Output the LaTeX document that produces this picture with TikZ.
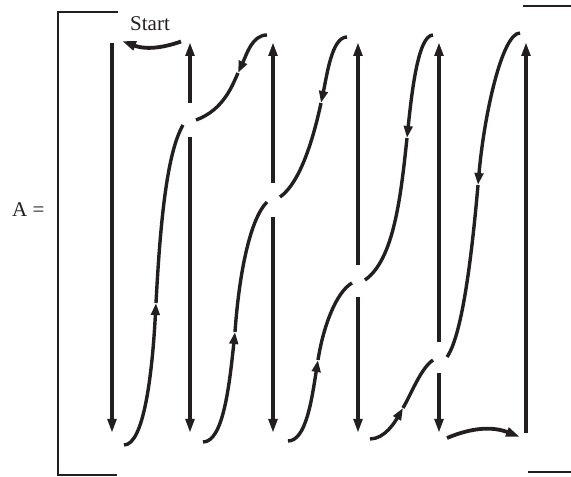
\documentclass[tikz,border=0pt]{standalone}
\usepackage{fontspec}
\setmainfont{Liberation Serif}
\usetikzlibrary{arrows.meta}
\definecolor{ink}{RGB}{35,31,32}
\begin{document}
\begin{tikzpicture}[x=1pt,y=1pt,
  bracketrule/.style={draw=ink, line width=1.2pt},
  colrule/.style={draw=ink, line width=3.8pt},
  colarrow/.style={colrule, -{Triangle[length=14pt,width=8.5pt]}},
  sweep/.style={draw=ink, line width=3.4pt},
  sweeparrow/.style={sweep, -{Triangle[length=12pt,width=8.5pt]}},
  turnarrow/.style={draw=ink, line width=3.8pt, -{Triangle[length=14pt,width=9pt]}},
  lbl/.style={font=\fontsize{21}{25}\selectfont, text=ink, inner sep=0pt}]
\useasboundingbox (0,0) rectangle (571,477);

% matrix brackets
\coordinate (bltop) at (58,465);
\coordinate (blbot) at (58,2);
\draw[bracketrule] (118,465) -- (bltop) -- (blbot) -- (117,2);
\draw[bracketrule] (523,471) -- (571,471);
\draw[bracketrule] (528,5) -- (571,5);

% labels
\node[lbl, anchor=base west] (lhs) at (12,260) {A =};
\node[lbl, anchor=base] (start) at (150,446) {Start};

% columns: top ends, bottom ends and the breaks where a sweep crosses
\coordinate (c1t) at (112,434); \coordinate (c1b) at (112,44);
\coordinate (c2t) at (190,435); \coordinate (c2u) at (190,374);
\coordinate (c2l) at (190,340); \coordinate (c2b) at (190,44);
\coordinate (c3t) at (273,435); \coordinate (c3u) at (273,294);
\coordinate (c3l) at (273,260); \coordinate (c3b) at (273,44);
\coordinate (c4t) at (358,435); \coordinate (c4u) at (358,212);
\coordinate (c4l) at (358,180); \coordinate (c4b) at (358,44);
\coordinate (c5t) at (439,435); \coordinate (c5u) at (439,135);
\coordinate (c5l) at (439,104); \coordinate (c5b) at (439,44);
\coordinate (c6t) at (526,435); \coordinate (c6b) at (526,44);

\draw[colarrow] (c1t) -- (c1b);
\draw[colarrow] (c2u) -- (c2t);
\draw[colarrow] (c2l) -- (c2b);
\draw[colarrow] (c3u) -- (c3t);
\draw[colarrow] (c3l) -- (c3b);
\draw[colarrow] (c4u) -- (c4t);
\draw[colarrow] (c4l) -- (c4b);
\draw[colarrow] (c5u) -- (c5t);
\draw[colarrow] (c5l) -- (c5b);
\draw[colarrow] (c6b) -- (c6t);

% start and finish turns
\coordinate (s0) at (181,435.5); \coordinate (s1) at (122,436);
\draw[turnarrow] (s0) to[bend left=20] (s1);
\coordinate (f0) at (447,39); \coordinate (f1) at (520,40);
\draw[turnarrow] (f0) to[bend left=22] (f1);

% rising sweeps from the foot of one column to the next column
\coordinate (l1a) at (124,32);  \coordinate (l1m) at (156,174); \coordinate (l1b) at (183,352);
\coordinate (l2a) at (203,35);  \coordinate (l2m) at (235,145); \coordinate (l2b) at (267,275);
\coordinate (l3a) at (288,36);  \coordinate (l3m) at (318,117); \coordinate (l3b) at (352,194);
\coordinate (l4a) at (370,38);  \coordinate (l4m) at (403,69);  \coordinate (l4b) at (433,117);

\draw[sweeparrow] (l1a) to[out=0,in=267,out distance=20pt,in distance=70pt] (l1m);
\draw[sweep] (l1m) to[out=87,in=240,out distance=90pt,in distance=30pt] (l1b);
\draw[sweeparrow] (l2a) to[out=0,in=264,out distance=20pt,in distance=55pt] (l2m);
\draw[sweep] (l2m) to[out=86,in=225,out distance=55pt,in distance=25pt] (l2b);
\draw[sweeparrow] (l3a) to[out=0,in=261,out distance=18pt,in distance=40pt] (l3m);
\draw[sweep] (l3m) to[out=81,in=210,out distance=35pt,in distance=18pt] (l3b);
\draw[sweeparrow] (l4a) to[out=0,in=240,out distance=15pt,in distance=15pt] (l4m);
\draw[sweep] (l4m) to[out=60,in=215,out distance=18pt,in distance=15pt] (l4b);

% falling sweeps from the top down to each crossing
\coordinate (u1t) at (267,442); \coordinate (u1m) at (238,404); \coordinate (u1c) at (196,357);
\coordinate (u2t) at (347,440); \coordinate (u2m) at (321,374); \coordinate (u2c) at (280,280);
\coordinate (u3t) at (433,442); \coordinate (u3m) at (407,339); \coordinate (u3c) at (365,197);
\coordinate (u4t) at (520,444); \coordinate (u4m) at (478,292); \coordinate (u4c) at (447,120);

\draw[sweeparrow] (u1t) to[out=180,in=65,out distance=15pt,in distance=20pt] (u1m);
\draw[sweep] (u1m) to[out=245,in=20,out distance=12pt,in distance=30pt] (u1c);
\draw[sweeparrow] (u2t) to[out=180,in=78,out distance=15pt,in distance=30pt] (u2m);
\draw[sweep] (u2m) to[out=258,in=35,out distance=35pt,in distance=25pt] (u2c);
\draw[sweeparrow] (u3t) to[out=180,in=84,out distance=15pt,in distance=45pt] (u3m);
\draw[sweep] (u3m) to[out=264,in=35,out distance=60pt,in distance=35pt] (u3c);
\draw[sweeparrow] (u4t) to[out=180,in=85,out distance=18pt,in distance=70pt] (u4m);
\draw[sweep] (u4m) to[out=265,in=55,out distance=80pt,in distance=25pt] (u4c);
\end{tikzpicture}
\end{document}
